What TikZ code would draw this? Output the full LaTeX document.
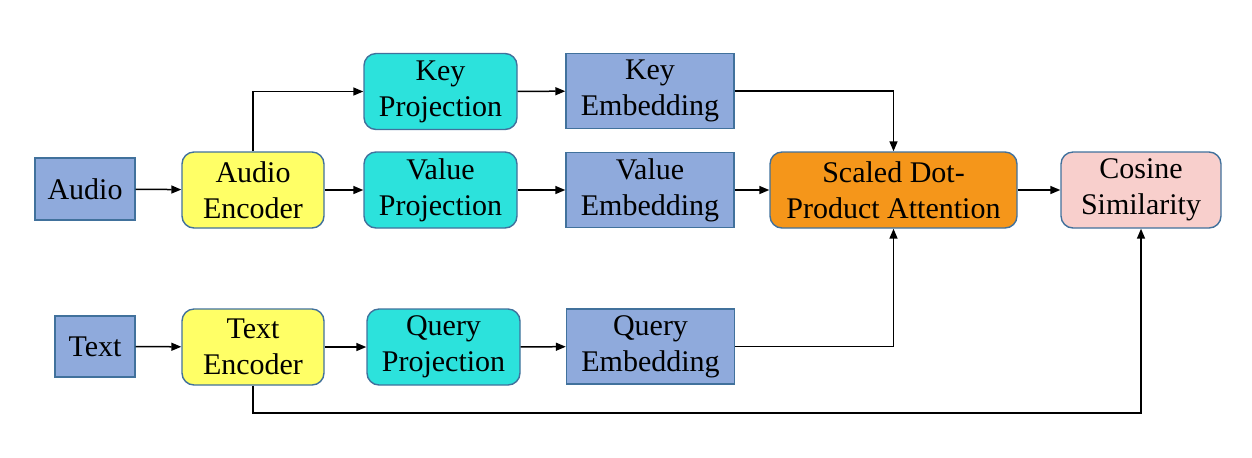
\documentclass[tikz,border=0pt]{standalone}
\usepackage{fontspec}
\setmainfont{Liberation Serif}
\usetikzlibrary{arrows.meta, positioning}

\definecolor{embblue}{HTML}{8FAADC}
\definecolor{encyellow}{HTML}{FFFF66}
\definecolor{projcyan}{HTML}{2CE2DC}
\definecolor{attnorange}{HTML}{F5961A}
\definecolor{cospink}{HTML}{F8CFCC}
\definecolor{edgeblue}{HTML}{41719C}

\begin{document}
\begin{tikzpicture}[
    x=0.5pt, y=-0.5pt,
    every node/.style={draw=edgeblue, line width=0.7pt, align=center, inner sep=0pt,
        font=\fontsize{15}{18}\selectfont},
    sqbox/.style={fill=embblue},
    rbox/.style={rounded corners=6pt},
    enc/.style={rbox, fill=encyellow, minimum width=71pt, minimum height=38pt},
    proj/.style={rbox, fill=projcyan, minimum width=76.5pt, minimum height=38pt},
    emb/.style={sqbox, minimum width=84pt, minimum height=37.5pt},
    link/.style={-{Triangle[length=5pt, width=4pt]}, line width=0.75pt},
]
\useasboundingbox (0,0) rectangle (1252,457);

\node[sqbox, minimum width=50pt, minimum height=31pt] (audio) at (85,189) {Audio};
\node[enc] (audioenc) at (253,190) {Audio\\Encoder};
\node[proj] (keyproj) at (440.5,91.5) {Key\\Projection};
\node[emb] (keyemb) at (650,91) {Key\\Embedding};
\node[proj] (valproj) at (440.5,190) {Value\\Projection};
\node[emb] (valemb) at (650,190) {Value\\Embedding};
\node[rbox, fill=attnorange, minimum width=123.5pt, minimum height=38pt] (attn) at (893.5,190) {Scaled Dot-\\Product Attention};
\node[rbox, fill=cospink, minimum width=80pt, minimum height=38pt] (cos) at (1141,190) {Cosine\\Similarity};

\node[sqbox, minimum width=40pt, minimum height=30.5pt] (text) at (95,346.5) {Text};
\node[enc] (textenc) at (253,347) {Text\\Encoder};
\node[proj] (queryproj) at (443.5,347) {Query\\Projection};
\node[emb] (queryemb) at (650.5,346.5) {Query\\Embedding};

\coordinate (loop) at (253,413);

\draw[link] (audio) -- (audioenc);
\draw[link] (audioenc.north) |- (keyproj.west);
\draw[link] (audioenc) -- (valproj);
\draw[link] (keyproj) -- (keyemb);
\draw[link] (valproj) -- (valemb);
\draw[link] (keyemb.east) -| (attn.north);
\draw[link] (valemb) -- (attn);
\draw[link] (attn) -- (cos);

\draw[link] (text) -- (textenc);
\draw[link] (textenc) -- (queryproj);
\draw[link] (queryproj) -- (queryemb);
\draw[link] (queryemb.east) -| (attn.south);
\draw[link] (textenc.south) -- (loop) -| (cos.south);

\end{tikzpicture}
\end{document}
